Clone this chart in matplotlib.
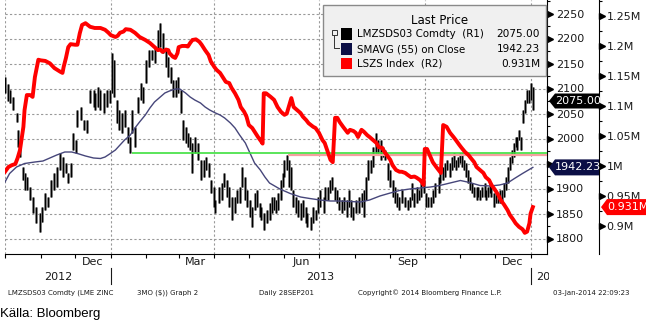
import numpy as np
import pandas as pd
import matplotlib
matplotlib.use('Agg')
import matplotlib.pyplot as plt
import matplotlib.dates as mdates
from matplotlib.patches import Rectangle, Polygon
from matplotlib.lines import Line2D
from matplotlib import transforms as mtrans
from matplotlib.ticker import FixedLocator, FuncFormatter, NullFormatter

# ---------------- data ----------------
start_date = '2012-10-01'   # day 0

# LME zinc 3M daily bars (day offset, high, low)
bar_day = [0, 3, 4, 7, 10, 11, 13, 16, 17, 19, 22, 24, 27, 30, 32, 35, 37, 40, 43, 45,
           48, 50, 53, 55, 57, 59, 62, 63, 66, 69, 71, 74, 77,
           78, 81, 83, 86, 89, 91, 93, 95, 97, 99, 102, 104, 107, 109, 110, 113, 116, 118,
           120, 123, 125, 128, 130, 133, 135, 137, 140, 142, 144, 146, 149, 150, 153, 155,
           157, 159, 161, 163, 165, 168, 170, 173, 175, 177, 179, 182, 183, 186, 189, 190,
           193, 195, 197, 200, 202, 204, 206, 209, 210, 213, 215, 217, 219, 222, 223, 225,
           228, 230, 232, 234,
           236, 237, 240, 242, 243, 245, 247, 249, 250, 253, 255, 257, 259, 262, 263, 266,
           268, 270, 272, 274, 277, 278, 281, 283, 284, 287, 289, 290, 293, 295, 297, 299,
           301, 303, 305, 308, 310, 312,
           314, 316, 318, 320, 323, 324, 327, 329, 330, 333, 335, 337, 339, 341, 343, 345,
           348, 350, 352, 354, 356, 358, 360, 362, 364, 366, 368, 370, 372, 374, 377, 378,
           381, 383, 384, 387,
           389, 390, 392, 394, 396, 397, 399, 401, 403, 404, 406, 408, 410, 411, 413, 415,
           417, 418, 420, 422, 423, 425, 427, 429, 430, 432, 434, 436, 437, 439, 441, 443,
           444, 445, 447, 449, 450, 452, 454, 456, 457, 459]
bar_high = [2123, 2110, 2097, 2083, 2051, 2017, 1997, 1943, 1931, 1923, 1903, 1883, 1863, 1851, 1863, 1891, 1883, 1917, 1931, 1943,
            1971, 1963, 1951, 1931, 1951, 2011, 1997, 2057, 2063, 2037, 2037, 2097, 2097,
            2091, 2103, 2097, 2091, 2097, 2097, 2171, 2157, 2077, 2057, 2051, 2057, 2023, 2003, 2057, 2023, 2083, 2111,
            2103, 2157, 2177, 2177, 2183, 2217, 2231, 2211, 2177, 2163, 2143, 2117, 2117, 2123, 2097, 2037,
            2023, 2011, 2003, 1991, 2003, 1991, 1957, 1957, 1963, 1951, 1917, 1903, 1877, 1903, 1911, 1931,
            1917, 1903, 1883, 1883, 1897, 1903, 1943, 1923, 1897, 1877, 1863, 1891, 1897, 1871, 1863, 1851,
            1857, 1871, 1883, 1883,
            1877, 1891, 1917, 1931, 1957, 1967, 1957, 1943, 1897, 1883, 1877, 1871, 1877, 1863, 1851, 1843,
            1863, 1857, 1883, 1897, 1883, 1903, 1903, 1917, 1923, 1903, 1897, 1883, 1877, 1883, 1877, 1897,
            1877, 1863, 1877, 1883, 1891, 1897,
            1923, 1957, 1957, 1983, 2011, 1997, 1997, 1983, 1977, 1951, 1937, 1917, 1903, 1891, 1883, 1897,
            1883, 1877, 1883, 1911, 1891, 1903, 1897, 1911, 1917, 1891, 1883, 1883, 1897, 1911, 1923, 1937,
            1943, 1951, 1957, 1951,
            1963, 1971, 1957, 1963, 1971, 1971, 1957, 1951, 1937, 1923, 1911, 1903, 1903, 1903, 1897, 1903,
            1911, 1897, 1903, 1911, 1911, 1891, 1897, 1891, 1897, 1897, 1911, 1923, 1943, 1963, 1977, 1991,
            2003, 2003, 2017, 2003, 2057, 2077, 2097, 2097, 2111, 2103]
bar_low = [2091, 2075, 2071, 2057, 2033, 1983, 1963, 1917, 1897, 1897, 1877, 1851, 1831, 1813, 1833, 1857, 1863, 1883, 1897, 1903,
           1937, 1923, 1931, 1911, 1923, 1977, 1971, 2023, 2037, 2017, 2011, 2071, 2063,
           2057, 2063, 2057, 2051, 2063, 2071, 2091, 2083, 2031, 2017, 2011, 2023, 1991, 1971, 2011, 1983, 2051, 2077,
           2071, 2111, 2143, 2157, 2151, 2177, 2183, 2171, 2143, 2123, 2111, 2083, 2083, 2091, 2051, 1997,
           1991, 1983, 1977, 1931, 1971, 1957, 1917, 1923, 1937, 1923, 1891, 1863, 1851, 1871, 1877, 1903,
           1883, 1863, 1837, 1851, 1871, 1871, 1903, 1877, 1863, 1843, 1823, 1857, 1863, 1843, 1837, 1817,
           1831, 1837, 1851, 1857,
           1851, 1857, 1877, 1903, 1923, 1937, 1903, 1897, 1863, 1851, 1843, 1837, 1843, 1831, 1823, 1817,
           1831, 1837, 1851, 1863, 1851, 1877, 1877, 1891, 1897, 1877, 1871, 1857, 1851, 1857, 1843, 1863,
           1843, 1837, 1851, 1851, 1863, 1843,
           1877, 1917, 1931, 1943, 1971, 1971, 1957, 1963, 1957, 1917, 1903, 1883, 1871, 1863, 1857, 1871,
           1863, 1857, 1863, 1877, 1863, 1871, 1877, 1883, 1891, 1863, 1863, 1863, 1871, 1883, 1891, 1911,
           1917, 1923, 1937, 1923,
           1937, 1943, 1937, 1943, 1951, 1943, 1937, 1923, 1911, 1897, 1891, 1883, 1877, 1883, 1877, 1883,
           1883, 1877, 1883, 1891, 1883, 1863, 1871, 1871, 1871, 1871, 1883, 1897, 1911, 1937, 1951, 1963,
           1983, 1977, 1997, 1977, 2031, 2051, 2071, 2071, 2077, 2057]

# SMAVG (55) on close
sma_day = [0, 4, 10, 17, 26, 33, 39, 45, 52, 58, 63, 70, 77, 83, 87, 91, 96, 100, 104, 109,
           113, 117, 122, 126, 130, 135, 139, 143, 148, 152, 157, 161, 165, 170, 174, 178, 183, 187, 191, 196,
           200, 204, 209, 213, 217, 222, 226, 230, 239, 248, 257, 265, 274, 283, 291, 300, 309, 317, 326, 335,
           343, 352, 361, 370, 378, 387, 396, 404, 413, 422, 430, 437, 443, 450, 459]
sma_val = [1913, 1930, 1943, 1950, 1953, 1955, 1961, 1967, 1973, 1973, 1970, 1965, 1961, 1960, 1963, 1969, 1977, 1987, 1997, 2007,
           2021, 2033, 2047, 2061, 2073, 2083, 2091, 2095, 2099, 2099, 2091, 2083, 2077, 2071, 2063, 2057, 2051, 2047, 2041, 2031,
           2021, 2007, 1991, 1971, 1951, 1937, 1923, 1911, 1899, 1890, 1883, 1880, 1877, 1875, 1875, 1874, 1873, 1877, 1885, 1891,
           1896, 1899, 1901, 1903, 1906, 1911, 1916, 1912, 1906, 1905, 1907, 1911, 1920, 1930, 1942.23]

# LSZS Index (LME zinc stocks, millions of tonnes) on R2
red_day = [0, 3, 6, 9, 11, 13, 16, 17, 19, 22,
           24, 26, 29, 31, 35, 39, 43, 48, 50, 51,
           53, 55, 57, 61, 63, 65, 67, 70, 72, 74,
           78, 83, 87, 90, 92, 96, 98, 100, 103, 105,
           109, 113, 117, 122, 126, 130, 133, 135, 137, 140,
           142, 143, 146, 148, 150, 151, 154, 157, 159, 161,
           163, 166, 169, 171, 174, 177, 179, 182, 184, 187,
           190, 192, 195, 197, 200, 203, 205, 208, 210, 212,
           215, 217, 220, 223, 224, 225, 227, 229, 231, 234,
           237, 240, 243, 245, 247, 249, 251, 254, 257, 259,
           262, 264, 268, 270, 273, 276, 278, 281, 283, 285,
           287, 289, 291, 294, 296, 298, 300, 303, 305, 307,
           310, 312, 315, 317, 320, 323, 325, 328, 330, 332,
           335, 337, 340, 343, 345, 348, 350, 353, 356, 358,
           361, 363, 364, 365, 367, 370, 372, 375, 377, 379,
           381, 384, 387, 390, 392, 395, 397, 400, 403, 405,
           408, 410, 413, 416, 418, 421, 423, 426, 429, 431,
           434, 437, 439, 442, 444, 447, 450, 452, 454, 456,
           457, 459]
red_val = [0.990, 0.998, 1.001, 1.003, 1.013, 1.026, 1.065, 1.093, 1.118, 1.118,
           1.115, 1.148, 1.177, 1.176, 1.175, 1.171, 1.163, 1.157, 1.155, 1.165,
           1.180, 1.198, 1.203, 1.202, 1.202, 1.221, 1.235, 1.238, 1.235, 1.232,
           1.230, 1.230, 1.227, 1.222, 1.218, 1.215, 1.217, 1.222, 1.224, 1.228,
           1.227, 1.222, 1.215, 1.210, 1.205, 1.198, 1.193, 1.194, 1.190, 1.194,
           1.193, 1.188, 1.182, 1.180, 1.188, 1.198, 1.200, 1.200, 1.199, 1.205,
           1.210, 1.211, 1.207, 1.202, 1.193, 1.185, 1.174, 1.165, 1.160, 1.155,
           1.146, 1.140, 1.138, 1.130, 1.121, 1.110, 1.098, 1.090, 1.082, 1.068,
           1.063, 1.057, 1.048, 1.040, 1.037, 1.121, 1.121, 1.118, 1.115, 1.110,
           1.098, 1.090, 1.085, 1.087, 1.100, 1.113, 1.098, 1.093, 1.088, 1.082,
           1.076, 1.071, 1.065, 1.063, 1.055, 1.043, 1.038, 1.021, 1.010, 1.006,
           1.080, 1.080, 1.073, 1.065, 1.060, 1.055, 1.060, 1.058, 1.055, 1.048,
           1.060, 1.057, 1.051, 1.048, 1.043, 1.038, 1.031, 1.030, 1.023, 1.018,
           1.010, 1.001, 0.993, 0.990, 0.990, 0.988, 0.985, 0.981, 0.982, 0.980,
           0.976, 0.971, 0.968, 1.028, 1.028, 1.015, 1.006, 0.998, 0.993, 0.988,
           1.068, 1.065, 1.055, 1.048, 1.043, 1.035, 1.030, 1.023, 1.018, 1.013,
           1.006, 0.998, 0.993, 0.988, 0.981, 0.976, 0.968, 0.960, 0.951, 0.943,
           0.935, 0.926, 0.918, 0.910, 0.904, 0.898, 0.894, 0.888, 0.890, 0.904,
           0.920, 0.931]

# horizontal levels
green_level, green_from = 1972, 110
pink_level, pink_from = 1968, 246

# last values
last_price, last_sma, last_lszs = 2075.00, 1942.23, 0.931

r1_ticks = [1800, 1850, 1900, 1950, 2000, 2050, 2100, 2150, 2200, 2250]
r1_hidden = [1950]          # covered by the SMA value tag in the original
r2_ticks = [0.9, 0.95, 1.0, 1.05, 1.1, 1.15, 1.2, 1.25]
month_labels = ['Dec', 'Mar', 'Jun', 'Sep', 'Dec']
month_label_dates = ['2012-12-16', '2013-03-16', '2013-06-16', '2013-09-16', '2013-12-16']
grid_dates = ['2012-10-01', '2013-01-01', '2013-04-01', '2013-07-01', '2013-10-01', '2014-01-01']
year_labels = ['2012', '2013', '2014']
year_bounds = ['2012-10-01', '2013-01-01', '2014-01-01']
x_end_day = 471.3

legend_names = ['LMZSDS03 Comdty  (R1)', 'SMAVG (55) on Close', 'LSZS Index  (R2)']
legend_vals = ['2075.00', '1942.23', '0.931M']
footer = [('LMZSDS03 Comdty (LME ZINC', 8), ('3MO ($)) Graph 2', 137), ('Daily 28SEP201', 259),
          ('Copyright\u00a9 2014 Bloomberg Finance L.P.', 358), ('03-Jan-2014 22:09:23', 553)]

# ---------------- drawing ----------------
BLACK = '#000000'
NAVY = '#0b0e45'
SMA_C = '#46467a'
RED = '#ff0000'
TXT = '#1a1a1a'

t0 = mdates.date2num(pd.Timestamp(start_date))
def d2n(days):
    return t0 + np.asarray(days, dtype=float)

W, H = 652, 324
fig = plt.figure(figsize=(W / 100, H / 100), dpi=100)
fig.patch.set_facecolor('white')
def fx(x): return x / W
def fy(y): return 1 - y / H

ax = fig.add_axes([fx(5), fy(254), (547 - 5) / W, 254 / H])
ax2 = ax.twinx()

ax.set_xlim(d2n(0), d2n(x_end_day))
ax.set_ylim(1769, 2277)
ax2.set_ylim(0.8527, 1.2767)

# grid
for gd in grid_dates:
    ax.axvline(mdates.date2num(pd.Timestamp(gd)), color='#999999', lw=0.8, ls=(0, (2, 2)), zorder=0)
ax.yaxis.set_major_locator(FixedLocator(r1_ticks))
ax.yaxis.set_minor_locator(FixedLocator([v + 25 for v in r1_ticks]))
ax.yaxis.set_major_formatter(FuncFormatter(lambda v, p: '' if round(v) in r1_hidden else f'{v:.0f}'))
ax.grid(axis='y', which='major', color='#999999', lw=0.8, ls=(0, (2, 2)), zorder=0)
ax.set_axisbelow(True)

# bars
xd = d2n(bar_day)
ax.vlines(xd, bar_low, bar_high, color='#7a7a7a', lw=2.0, zorder=2)
ax.vlines(xd, bar_low, bar_high, color=BLACK, lw=0.8, zorder=3)

# SMA
ax.plot(d2n(sma_day), sma_val, color=SMA_C, lw=1.0, zorder=4)

# levels
ax.plot([d2n(pink_from), d2n(x_end_day)], [pink_level, pink_level], color='#f5a0a0', lw=1.6, zorder=4,
        solid_capstyle='butt')
ax.plot([d2n(green_from), d2n(x_end_day)], [green_level, green_level], color='#3ee03e', lw=1.2, zorder=5,
        solid_capstyle='butt')

# red line
ax2.plot(d2n(red_day), red_val, color=RED, lw=2.8, zorder=5, solid_joinstyle='round')

# spines
for s in ['top', 'left']:
    ax.spines[s].set_visible(False)
ax.spines['right'].set_color(BLACK)
ax.spines['bottom'].set_color(BLACK)
for s in ['top', 'left', 'bottom']:
    ax2.spines[s].set_visible(False)
ax2.spines['right'].set_position(('outward', 52 * 0.72))
ax2.spines['right'].set_color(BLACK)

# R1 axis
ax.yaxis.tick_right()
ax.tick_params(axis='y', which='major', length=0, pad=6.5, labelsize=8, labelcolor=TXT)
ax.tick_params(axis='y', which='minor', length=2.5, width=0.8, direction='out', color=BLACK)
ax.tick_params(axis='y', which='both', left=False, right=True, labelleft=False, labelright=True)
tr1 = mtrans.offset_copy(mtrans.blended_transform_factory(ax.transAxes, ax.transData), fig=fig, x=2.6, units='dots')
ax.plot(np.ones(len(r1_ticks)), r1_ticks, ls='none', marker='>', ms=4.2, color=BLACK,
        transform=tr1, clip_on=False, zorder=6)

# R2 axis
ax2.yaxis.set_major_locator(FixedLocator(r2_ticks))
ax2.yaxis.set_minor_locator(FixedLocator([v + 0.025 for v in r2_ticks]))
ax2.yaxis.set_major_formatter(FuncFormatter(lambda v, p: f'{v:g}M'))
ax2.tick_params(axis='y', which='major', length=0, pad=5.5, labelsize=8, labelcolor=TXT)
ax2.tick_params(axis='y', which='minor', length=2.5, width=0.8, direction='out', color=BLACK)
tr2 = mtrans.offset_copy(mtrans.blended_transform_factory(ax2.transAxes, ax2.transData), fig=fig, x=52 + 2.6,
                         units='dots')
ax2.plot(np.ones(len(r2_ticks)), r2_ticks, ls='none', marker='>', ms=4.2, color=BLACK,
         transform=tr2, clip_on=False, zorder=6)

# x axis
ax.xaxis.set_major_locator(mdates.MonthLocator())
ax.xaxis.set_major_formatter(NullFormatter())
ax.tick_params(axis='x', which='major', length=3, width=0.8, direction='out', color=BLACK)
ax.set_xticks([mdates.date2num(pd.Timestamp(d)) for d in month_label_dates], labels=month_labels, minor=True)
ax.tick_params(axis='x', which='minor', length=0, pad=2.5, labelsize=8, labelcolor=TXT)

fig.canvas.draw()

def data_px(axx, x, y):
    X, Y = axx.transData.transform((x, y))
    return X, H - Y

# year labels and separators
yb = [mdates.date2num(pd.Timestamp(d)) for d in year_bounds] + [d2n(x_end_day)]
for i, lab in enumerate(year_labels):
    a, b = yb[i], yb[i + 1]
    if i < 2:
        xc = data_px(ax, (a + b) / 2, 2000)[0]
        fig.text(fx(xc), fy(277), lab, ha='center', va='center', fontsize=8, color=TXT)
    else:
        xl = data_px(ax, a, 2000)[0] + 6
        t = fig.text(fx(xl), fy(277), lab, ha='left', va='center', fontsize=8, color=TXT)
        t.set_clip_box(mtrans.Bbox.from_extents(0, 0, 549, H))
        t.set_clip_on(True)
for d in year_bounds[1:]:
    xs = data_px(ax, mdates.date2num(pd.Timestamp(d)), 2000)[0]
    fig.add_artist(Line2D([fx(xs), fx(xs)], [fy(268), fy(284)], transform=fig.transFigure, color=TXT, lw=0.8))

# footer
for txt, x0 in footer:
    fig.text(fx(x0), fy(293), txt, ha='left', va='center', fontsize=5.0, color=TXT)
fig.text(fx(0), fy(314), 'Källa: Bloomberg', ha='left', va='center', fontsize=9.5,
         family='Liberation Sans', color=BLACK)

# legend box
fig.add_artist(Rectangle((fx(323), fy(76)), (546 - 323) / W, (76 - 4.7) / H, transform=fig.transFigure,
                         facecolor='#f0f0f0', edgecolor='#8a8a8a', lw=1.0, zorder=10))
fig.text(fx(440), fy(20), 'Last Price', ha='center', va='center', fontsize=8.5, color=BLACK, zorder=11)
row_y = [34, 49, 64]
row_c = [BLACK, NAVY, RED]
for yy, c, name, val in zip(row_y, row_c, legend_names, legend_vals):
    fig.add_artist(Rectangle((fx(341), fy(yy + 5.5)), 11 / W, 11 / H, transform=fig.transFigure,
                             facecolor=c, edgecolor='none', zorder=11))
    fig.text(fx(357), fy(yy), name, ha='left', va='center', fontsize=7.4, color=BLACK, zorder=12)
    fig.text(fx(540), fy(yy), val, ha='right', va='center', fontsize=7.6, color=BLACK, zorder=12)
# small tree icon
fig.add_artist(Rectangle((fx(331.5), fy(35)), 5 / W, 5 / H, transform=fig.transFigure,
                         facecolor='none', edgecolor='#333333', lw=0.7, zorder=11))
fig.add_artist(Line2D([fx(334), fx(334), fx(339)], [fy(35), fy(47.5), fy(47.5)], transform=fig.transFigure,
                      color='#333333', lw=0.7, zorder=11))

# right value tags
def tag(x_tip, x_body, x_right, yc, half, color, text):
    pts = [(x_tip, yc), (x_body, yc - half), (x_right, yc - half), (x_right, yc + half), (x_body, yc + half)]
    fig.add_artist(Polygon([(fx(a), fy(b)) for a, b in pts], closed=True, transform=fig.transFigure,
                           facecolor=color, edgecolor='none', zorder=10))
    fig.text(fx((x_body + x_right) / 2 + 1), fy(yc), text, ha='center', va='center', fontsize=8,
             color='white', zorder=11)

y_last = data_px(ax, d2n(0), last_price)[1]
y_sma = data_px(ax, d2n(0), last_sma)[1]
y_lszs = data_px(ax2, d2n(0), last_lszs)[1]
tag(549, 555, 599, y_last, 7.5, BLACK, f'{last_price:.2f}')
tag(549, 555, 599, y_sma, 8.0, NAVY, f'{last_sma:.2f}')
tag(601, 607, 646, y_lszs, 8.0, RED, f'{last_lszs:.3f}M')

fig.savefig('out.png', dpi=100, facecolor='white')
